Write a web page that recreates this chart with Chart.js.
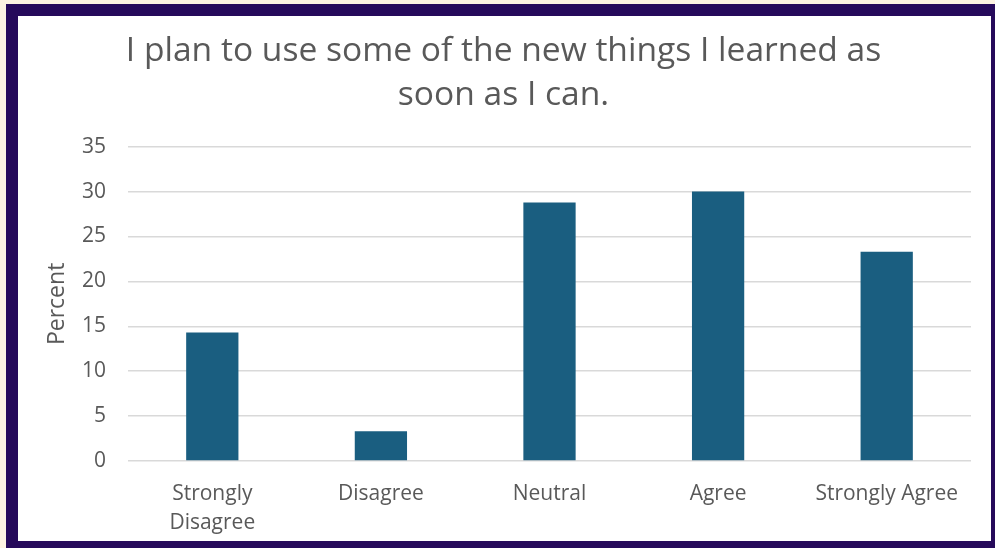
<!DOCTYPE html>
<html>
<head>
<meta charset="utf-8">
<title>Survey chart</title>
<script src="https://cdn.jsdelivr.net/npm/chart.js@4.4.1/dist/chart.umd.min.js"></script>
<style>
    html, body { margin: 0; padding: 0; }
    body { width: 995px; height: 548px; background: #fdf3e2; position: relative; overflow: hidden; }
    #frame { position: absolute; left: 6px; top: 4px; width: 989px; height: 544px; background: #260a5b; }
    #card { position: absolute; left: 18px; top: 16px; width: 973px; height: 525px; background: #ffffff; }
    #card canvas { display: block; }
</style>
</head>
<body>
<div id="frame"></div>
<div id="card"><canvas id="surveyChart" width="973" height="525"></canvas></div>
<script>
const categories = ['Strongly Disagree', 'Disagree', 'Neutral', 'Agree', 'Strongly Agree'];
const percentValues = [14.3, 3.3, 28.8, 30.0, 23.3];
const yTicks = [0, 5, 10, 15, 20, 25, 30, 35];

const textGrey = '#595959';
const fontName = "'Open Sans', sans-serif";

document.addEventListener('DOMContentLoaded', () => {
    const ctx = document.getElementById('surveyChart').getContext('2d');

    new Chart(ctx, {
        type: 'bar',
        data: {
            labels: categories,
            datasets: [{
                label: 'Percent',
                data: percentValues,
                backgroundColor: '#1a5e80',
                borderWidth: 0,
                categoryPercentage: 1,
                barPercentage: 0.31
            }]
        },
        options: {
            responsive: false,
            animation: false,
            layout: { padding: { top: 0, right: 2, bottom: 0, left: 0 } },
            plugins: {
                legend: { display: false },
                tooltip: { enabled: false },
                title: {
                    display: true,
                    text: ['I plan to use some of the new things I learned as', 'soon as I can.'],
                    color: textGrey,
                    font: { family: fontName, size: 33.6, weight: 'normal', lineHeight: 1.32 },
                    padding: { top: 13, bottom: 29 }
                }
            },
            scales: {
                x: {
                    grid: { display: false },
                    border: { display: false },
                    ticks: {
                        color: textGrey,
                        font: { family: fontName, size: 21, lineHeight: 1.35 },
                        padding: 11,
                        maxRotation: 0,
                        // long labels wrap onto two lines
                        callback: function (value) {
                            const label = this.getLabelForValue(value);
                            return label.length > 15 ? label.split(' ') : label;
                        }
                    },
                    // fixed axis height, and keep the plot clear of the right edge
                    afterFit: (scale) => {
                        scale.height = 80;
                        scale.paddingRight = 20;
                    }
                },
                y: {
                    min: 0,
                    max: 35,
                    border: { display: false },
                    grid: { color: '#d9d9d9', lineWidth: 1.5, drawTicks: false },
                    afterBuildTicks: (scale) => { scale.ticks = yTicks.map(v => ({ value: v })); },
                    ticks: {
                        color: textGrey,
                        font: { family: fontName, size: 21 },
                        padding: 22
                    },
                    title: {
                        display: true,
                        text: 'Percent',
                        color: textGrey,
                        font: { family: fontName, size: 23 },
                        padding: { top: 26, bottom: 0 }
                    },
                    afterFit: (scale) => { scale.width = 110; }
                }
            }
        }
    });
});
</script>
</body>
</html>
